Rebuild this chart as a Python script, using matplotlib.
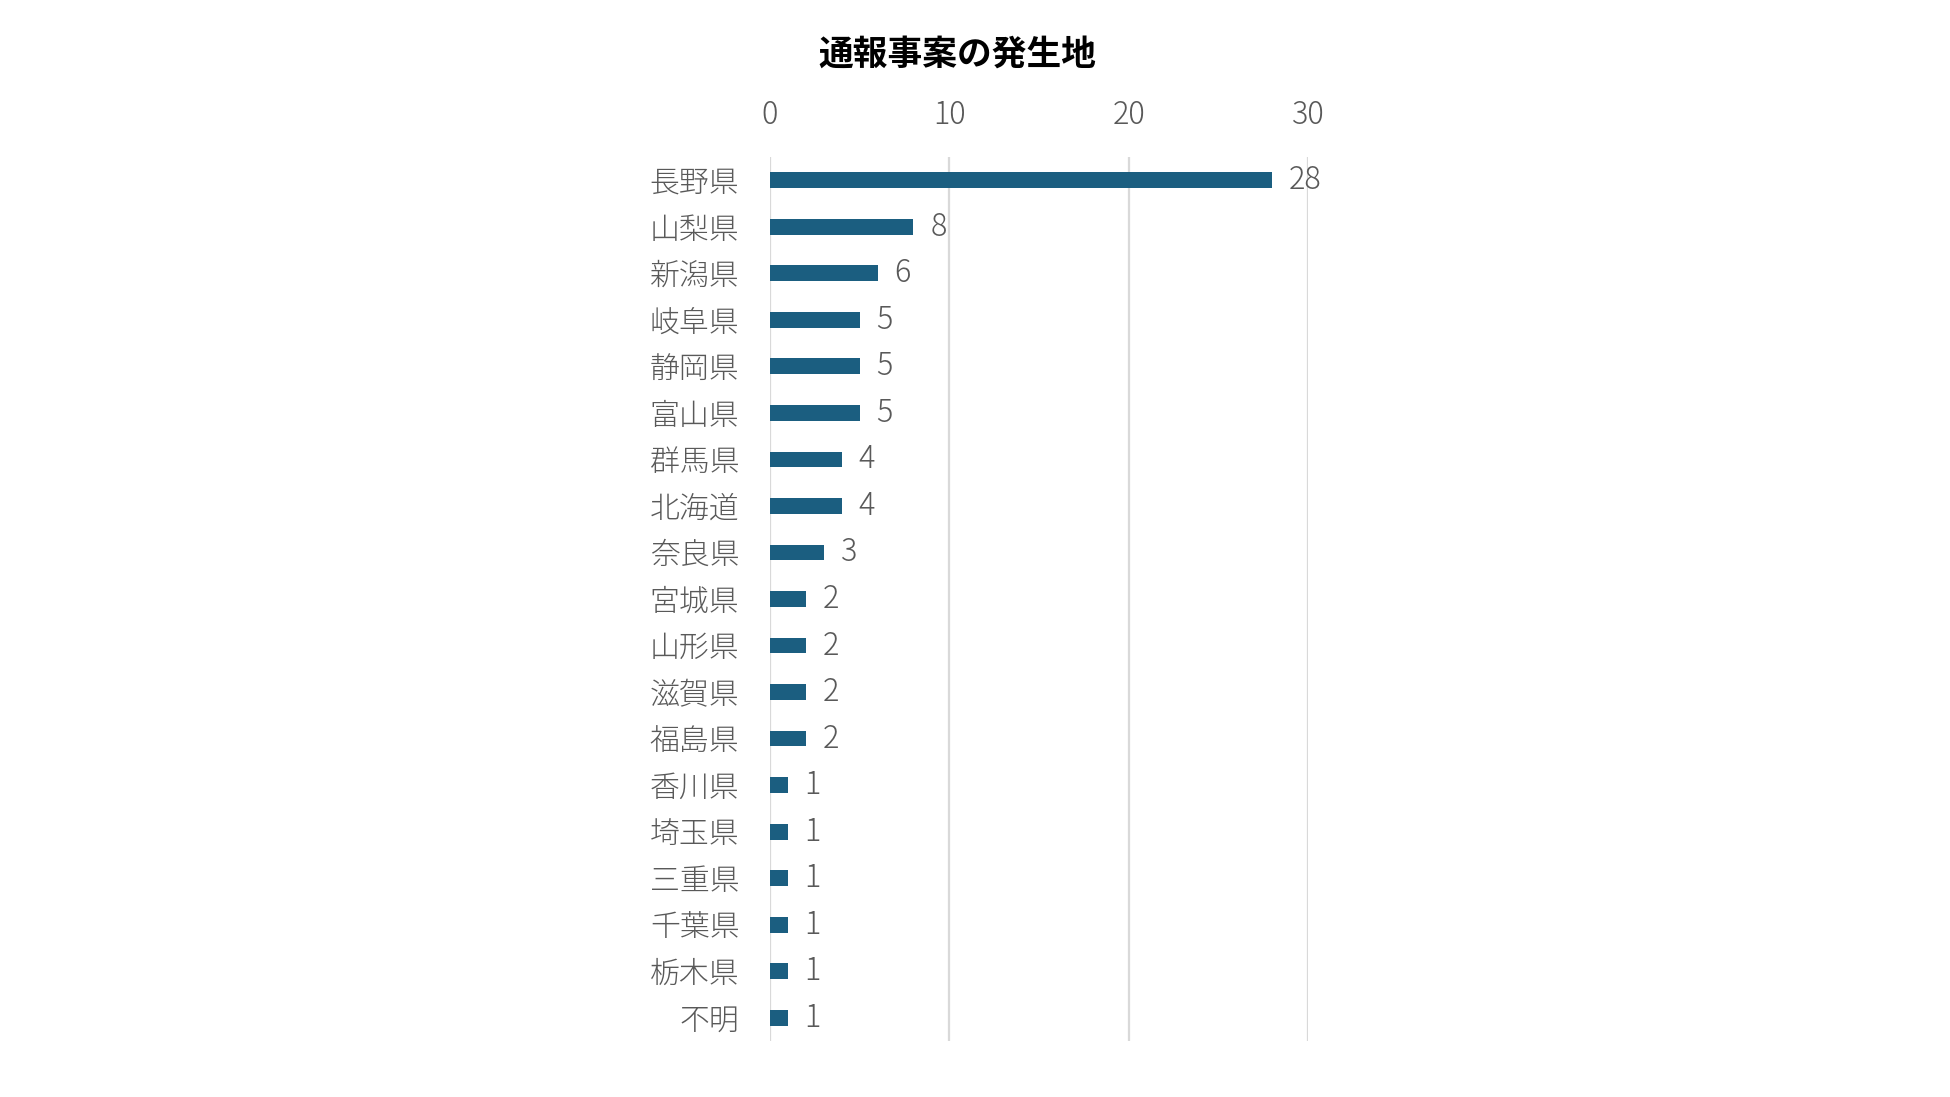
import matplotlib
matplotlib.use("Agg")
import matplotlib.pyplot as plt

plt.rcParams['font.family'] = ['Noto Sans CJK JP', 'DejaVu Sans']

categories = ["長野県", "山梨県", "新潟県", "岐阜県", "静岡県", "富山県", "群馬県",
              "北海道", "奈良県", "宮城県", "山形県", "滋賀県", "福島県", "香川県",
              "埼玉県", "三重県", "千葉県", "栃木県", "不明"]
values = [28, 8, 6, 5, 5, 5, 4, 4, 3, 2, 2, 2, 2, 1, 1, 1, 1, 1, 1]
xticks = [0, 10, 20, 30]
title = "通報事案の発生地"

bar_color = "#1b5e80"
text_color = "#595959"
grid_color = "#d9d9d9"

fig = plt.figure(figsize=(19.5, 10.97), dpi=100)
ax = fig.add_axes([770/1950, 56/1097, 538/1950, 884/1097])

ypos = list(range(len(categories)))
ax.barh(ypos, values, height=0.34, color=bar_color, zorder=3)
ax.set_xlim(0, 30)
ax.set_ylim(len(categories) - 0.5, -0.5)

ax.set_xticks(xticks)
ax.set_xticklabels([str(t) for t in xticks])
ax.xaxis.tick_top()
ax.tick_params(axis='x', length=0, pad=19, labelsize=22, labelcolor=text_color)
ax.set_yticks(ypos)
ax.set_yticklabels(categories)
ax.tick_params(axis='y', length=0, pad=22, labelsize=21.5, labelcolor=text_color)
for lab in ax.get_xticklabels() + ax.get_yticklabels():
    lab.set_fontweight('light')

ax.grid(axis='x', color=grid_color, linewidth=1.6, zorder=0)
for s in ax.spines.values():
    s.set_visible(False)

for y, v in zip(ypos, values):
    ax.annotate(str(v), xy=(v, y), xytext=(12, 0), textcoords='offset points',
                va='center', ha='left', fontsize=22, color=text_color, fontweight='light')

fig.text(957/1950, 1 - 54/1097, title, ha='center', va='center',
         fontsize=25, fontweight='bold', color='black')

fig.savefig("out.png", dpi=100)
